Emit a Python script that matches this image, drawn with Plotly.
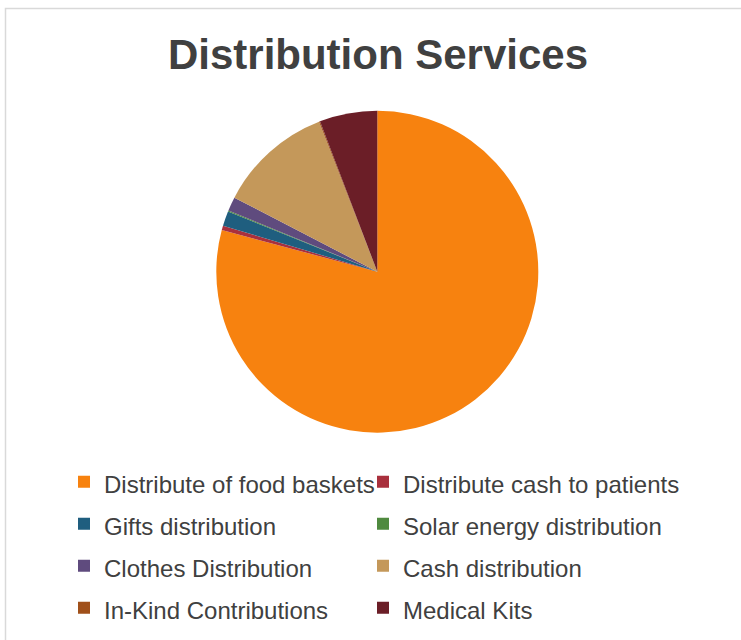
import plotly.graph_objects as go

# Distribution services, share of total (%)
services = [
    "Distribute of food baskets",
    "Distribute cash to patients",
    "Gifts distribution",
    "Solar energy distribution",
    "Clothes Distribution",
    "Cash distribution",
    "In-Kind Contributions",
    "Medical Kits",
]
shares = [79.2, 0.45, 1.5, 0.1, 1.4, 11.5, 0.1, 5.8]
colors = ["#F7820F", "#A9303D", "#1F5E7F", "#4F8A3F", "#5F4B7E", "#C4985A", "#A0501A", "#6B1E27"]

W, H = 741, 640

# legend text is drawn smaller than the legend font so rows get taller spacing
legend_labels = [f"<span style='font-size:24px'>{s}</span>" for s in services]

fig = go.Figure()
fig.add_trace(go.Pie(
    labels=legend_labels,
    values=shares,
    sort=False,
    direction="clockwise",
    rotation=0,
    textinfo="none",
    hoverinfo="label+percent",
    marker=dict(colors=colors, line=dict(width=0)),
    domain=dict(x=[(377.3 - 161) / W, (377.3 + 161) / W],
                y=[1 - 432.7 / H, 1 - 110.7 / H]),
))

# light chart-area border (runs off the right and bottom edges)
fig.add_shape(type="rect", xref="paper", yref="paper",
              x0=5.5 / W, x1=1.2, y0=-0.2, y1=1 - 8.5 / H,
              line=dict(color="#D9D9D9", width=1.5), fillcolor="rgba(0,0,0,0)")

fig.update_layout(
    width=W, height=H,
    margin=dict(l=0, r=0, t=0, b=0),
    paper_bgcolor="white",
    plot_bgcolor="white",
    font=dict(family="Liberation Sans, Arial, sans-serif", color="#404040"),
    title=dict(text="<b>Distribution Services</b>", x=378 / W, xanchor="center",
               y=1 - 54 / H, yanchor="middle", font=dict(size=42, color="#404040")),
    legend=dict(orientation="h", x=64 / W, xanchor="left", y=1 - 450.5 / H, yanchor="top",
                font=dict(size=30, color="#404040"), entrywidth=254, entrywidthmode="pixels",
                bgcolor="rgba(0,0,0,0)",
                # invisible wide title so the second column text is not clipped
                title=dict(text="M" * 200, side="top",
                           font=dict(size=4, color="rgba(0,0,0,0)"))),
)

fig.write_html("out.html", config={"displayModeBar": False},
               post_script="document.body.style.margin='0px';")
